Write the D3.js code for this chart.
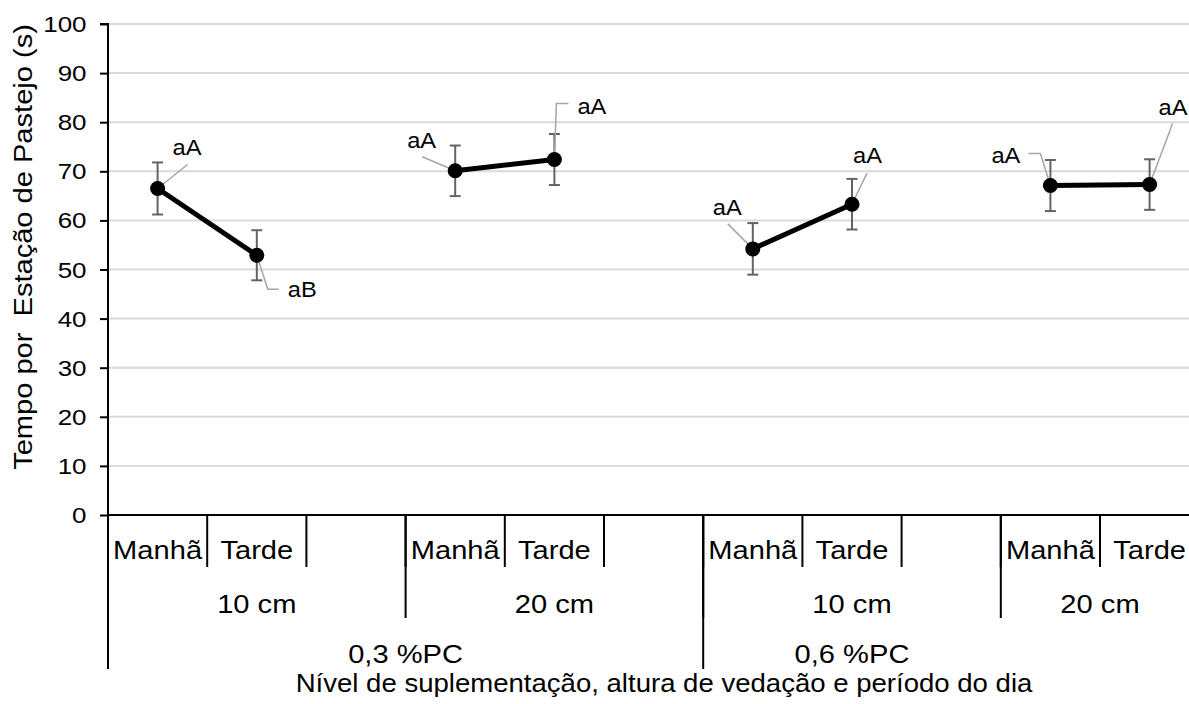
<!DOCTYPE html>
<html lang="pt">
<head>
<meta charset="utf-8">
<script src="https://cdn.jsdelivr.net/npm/d3@7"></script>
<style>
  html, body { margin: 0; padding: 0; background: #fff; }
  svg { display: block; font-family: "Liberation Sans", Arial, sans-serif; }
  svg text { white-space: pre; }
</style>
</head>
<body>
<svg id="chart" width="1189" height="704"></svg>
<script>
// Period of the day for each category slot (empty slots separate the groups)
const periods = ["Manhã", "Tarde", "", "Manhã", "Tarde", "", "Manhã", "Tarde", "", "Manhã", "Tarde"];
// Mean time per grazing station (s); null marks an empty slot
const means  = [66.5, 52.9, null, 70.1, 72.4, null, 54.2, 63.3, null, 67.1, 67.3];
// Standard error of each mean
const errors = [5.3, 5.1, null, 5.15, 5.2, null, 5.25, 5.15, null, 5.2, 5.15];
// Letters from the mean comparison tests
const letters = ["aA", "aB", null, "aA", "aA", null, "aA", "aA", null, "aA", "aA"];
// Deferral height groups: label, first slot, slot after last
const heightGroups = [
  { label: "10 cm", from: 0, to: 3 },
  { label: "20 cm", from: 3, to: 6 },
  { label: "10 cm", from: 6, to: 9 },
  { label: "20 cm", from: 9, to: 11 }
];
// Supplementation level groups: label, slot span, and the span its label is centred on
const levelGroups = [
  { label: "0,3 %PC", from: 0, to: 6, labelFrom: 0, labelTo: 6 },
  { label: "0,6 %PC", from: 6, to: 11, labelFrom: 6, labelTo: 9 }
];
const yTicks = [0, 10, 20, 30, 40, 50, 60, 70, 80, 90, 100];
const yTitle = "Tempo por  Estação de Pastejo (s)";
const xTitle = "Nível de suplementação, altura de vedação e período do dia";

// Where each letter sits relative to its point, with its leader line path
const labelPlacement = [
  { dx: 15, dy: -33, leader: [[0, 0], [30, -24]] },
  { dx: 31, dy: 42,  leader: [[0, 0], [11, 34], [22, 34]] },
  null,
  { dx: -48, dy: -23, leader: [[0, 0], [-33, -14]] },
  { dx: 23, dy: -46, leader: [[0, 0], [2, -56], [14, -56]] },
  null,
  { dx: -40, dy: -34, leader: [[0, 0], [-25, -25]] },
  { dx: 1, dy: -41,  leader: [[0, 0], [15, -31]] },
  null,
  { dx: -59, dy: -23, leader: [[0, 0], [-10, -32], [-22, -32]] },
  { dx: 9, dy: -70,  leader: [[0, 0], [23, -61]] }
];

const svg = d3.select("#chart");
const plotLeft = 108, plotRight = 1199.2, plotTop = 24, plotBottom = 515;

const x = d3.scaleBand().domain(d3.range(periods.length)).range([plotLeft, plotRight]).padding(0);
const y = d3.scaleLinear().domain([0, 100]).range([plotBottom, plotTop]);
const cx = i => x(i) + x.bandwidth() / 2;
const edge = i => plotLeft + i * x.bandwidth();

// Text drawn slightly wider than the font's natural proportions
function stretchedText(parent, str, tx, ty, size, sx, anchor, rotate) {
  return parent.append("text")
    .attr("transform", `translate(${tx},${ty})` + (rotate ? ` rotate(${rotate})` : "") + ` scale(${sx},1)`)
    .attr("text-anchor", anchor)
    .attr("font-size", size)
    .attr("fill", "#000")
    .text(str);
}

// Horizontal gridlines
svg.append("g").selectAll("line").data(yTicks.filter(t => t > 0)).join("line")
  .attr("x1", plotLeft).attr("x2", plotRight)
  .attr("y1", d => y(d)).attr("y2", d => y(d))
  .attr("stroke", "#d9d9d9").attr("stroke-width", 2);

// Y axis
const yAxis = svg.append("g").attr("transform", `translate(${plotLeft},0)`)
  .call(d3.axisLeft(y).tickValues(yTicks).tickSize(8).tickFormat(""));
yAxis.select(".domain").attr("d", `M-8,${plotTop}H0V${plotBottom}`).attr("stroke", "#000").attr("stroke-width", 2);
yAxis.selectAll(".tick line").attr("stroke", "#000").attr("stroke-width", 2);
yTicks.forEach(t => stretchedText(svg, String(t), 86.5, y(t) + 8, 22, 1.18, "end"));

// Category axis baseline
svg.append("line").attr("x1", plotLeft).attr("x2", plotRight).attr("y1", plotBottom).attr("y2", plotBottom)
  .attr("stroke", "#000").attr("stroke-width", 2);

// Multi-level category separators
const sep = svg.append("g").attr("stroke", "#000").attr("stroke-width", 2);
d3.range(periods.length + 1).forEach(i => {
  sep.append("line").attr("x1", edge(i)).attr("x2", edge(i)).attr("y1", plotBottom).attr("y2", 567);
});
heightGroups.forEach(g => {
  sep.append("line").attr("x1", edge(g.from)).attr("x2", edge(g.from)).attr("y1", plotBottom).attr("y2", 618);
});
levelGroups.forEach(g => {
  sep.append("line").attr("x1", edge(g.from)).attr("x2", edge(g.from)).attr("y1", plotBottom).attr("y2", 669);
});

// Category labels
periods.forEach((p, i) => { if (p) stretchedText(svg, p, cx(i), 559, 26, 1.12, "middle"); });
heightGroups.forEach(g => stretchedText(svg, g.label, (edge(g.from) + edge(g.to)) / 2, 612.5, 26, 1.12, "middle"));
levelGroups.forEach(g => stretchedText(svg, g.label, (edge(g.labelFrom) + edge(g.labelTo)) / 2, 663, 26, 1.12, "middle"));

// Axis titles
stretchedText(svg, xTitle, 664, 692, 26, 1.06, "middle");
stretchedText(svg, yTitle, 32, 247, 25.5, 1.14, "middle", -90);

// Error bars
const eb = svg.append("g").attr("stroke", "#636363").attr("stroke-width", 2);
means.forEach((m, i) => {
  if (m == null) return;
  const hi = y(m + errors[i]), lo = y(m - errors[i]), px = cx(i);
  eb.append("line").attr("x1", px).attr("x2", px).attr("y1", hi).attr("y2", lo);
  eb.append("line").attr("x1", px - 5.5).attr("x2", px + 5.5).attr("y1", hi).attr("y2", hi);
  eb.append("line").attr("x1", px - 5.5).attr("x2", px + 5.5).attr("y1", lo).attr("y2", lo);
});

// Mean lines (broken at empty slots)
const line = d3.line().defined(d => d.v != null).x(d => cx(d.i)).y(d => y(d.v));
svg.append("path")
  .datum(means.map((v, i) => ({ v, i })))
  .attr("d", line)
  .attr("fill", "none").attr("stroke", "#000").attr("stroke-width", 5);

// Leader lines
const leaders = svg.append("g").attr("fill", "none").attr("stroke", "#a6a6a6").attr("stroke-width", 1.5);
means.forEach((m, i) => {
  const pl = labelPlacement[i];
  if (m == null || !pl) return;
  const px = cx(i), py = y(m);
  leaders.append("path").attr("d", d3.line()(pl.leader.map(([a, b]) => [px + a, py + b])));
});

// Markers
svg.append("g").selectAll("circle")
  .data(means.map((v, i) => ({ v, i })).filter(d => d.v != null))
  .join("circle")
  .attr("cx", d => cx(d.i)).attr("cy", d => y(d.v)).attr("r", 7.5)
  .attr("fill", "#000");

// Letters
means.forEach((m, i) => {
  const pl = labelPlacement[i];
  if (m == null || !pl) return;
  stretchedText(svg, letters[i], cx(i) + pl.dx, y(m) + pl.dy, 21.5, 1.1, "start");
});
</script>
</body>
</html>
